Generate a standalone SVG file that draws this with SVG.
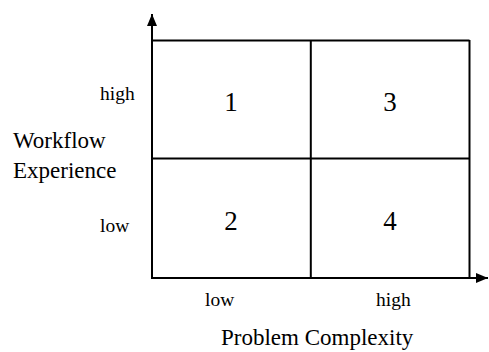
<svg xmlns="http://www.w3.org/2000/svg" width="489" height="352" viewBox="0 0 489 352">
<style>
text{font-family:"Liberation Serif","Times New Roman",serif;fill:#000}
.s{font-size:19.5px}
.t{font-size:23px}
.d{font-size:27px;text-anchor:middle}
.ln{stroke:#000;stroke-width:2;fill:none}
</style>
<defs>
<marker id="ah" viewBox="0 0 12 10" refX="12" refY="5" markerWidth="12" markerHeight="10" markerUnits="userSpaceOnUse" orient="auto">
<path d="M0,0 L12,5 L0,10 Z" fill="#000"/>
</marker>
</defs>
<rect width="489" height="352" fill="#fff"/>
<g id="connectors">
<line class="ln" x1="152" y1="278" x2="152" y2="14" marker-end="url(#ah)"/>
<line class="ln" x1="151" y1="278" x2="488" y2="278" marker-end="url(#ah)"/>
<line class="ln" x1="152" y1="40.5" x2="469.5" y2="40.5"/>
<line class="ln" x1="469.5" y1="40" x2="469.5" y2="278"/>
<line class="ln" x1="310.8" y1="40" x2="310.8" y2="278"/>
<line class="ln" x1="152" y1="158.5" x2="469.5" y2="158.5"/>
</g>
<g id="q1"><text class="d" x="231" y="111">1</text></g>
<g id="q3"><text class="d" x="390" y="111">3</text></g>
<g id="q2"><text class="d" x="231" y="230">2</text></g>
<g id="q4"><text class="d" x="390" y="230">4</text></g>
<g id="ylabels">
<text class="s" x="100" y="100">high</text>
<text class="s" x="100" y="232">low</text>
<text class="t" x="13" y="148">Workflow</text>
<text class="t" x="13" y="178">Experience</text>
</g>
<g id="xlabels">
<text class="s" x="205" y="306">low</text>
<text class="s" x="376" y="306">high</text>
<text class="t" x="221" y="345">Problem Complexity</text>
</g>
</svg>
